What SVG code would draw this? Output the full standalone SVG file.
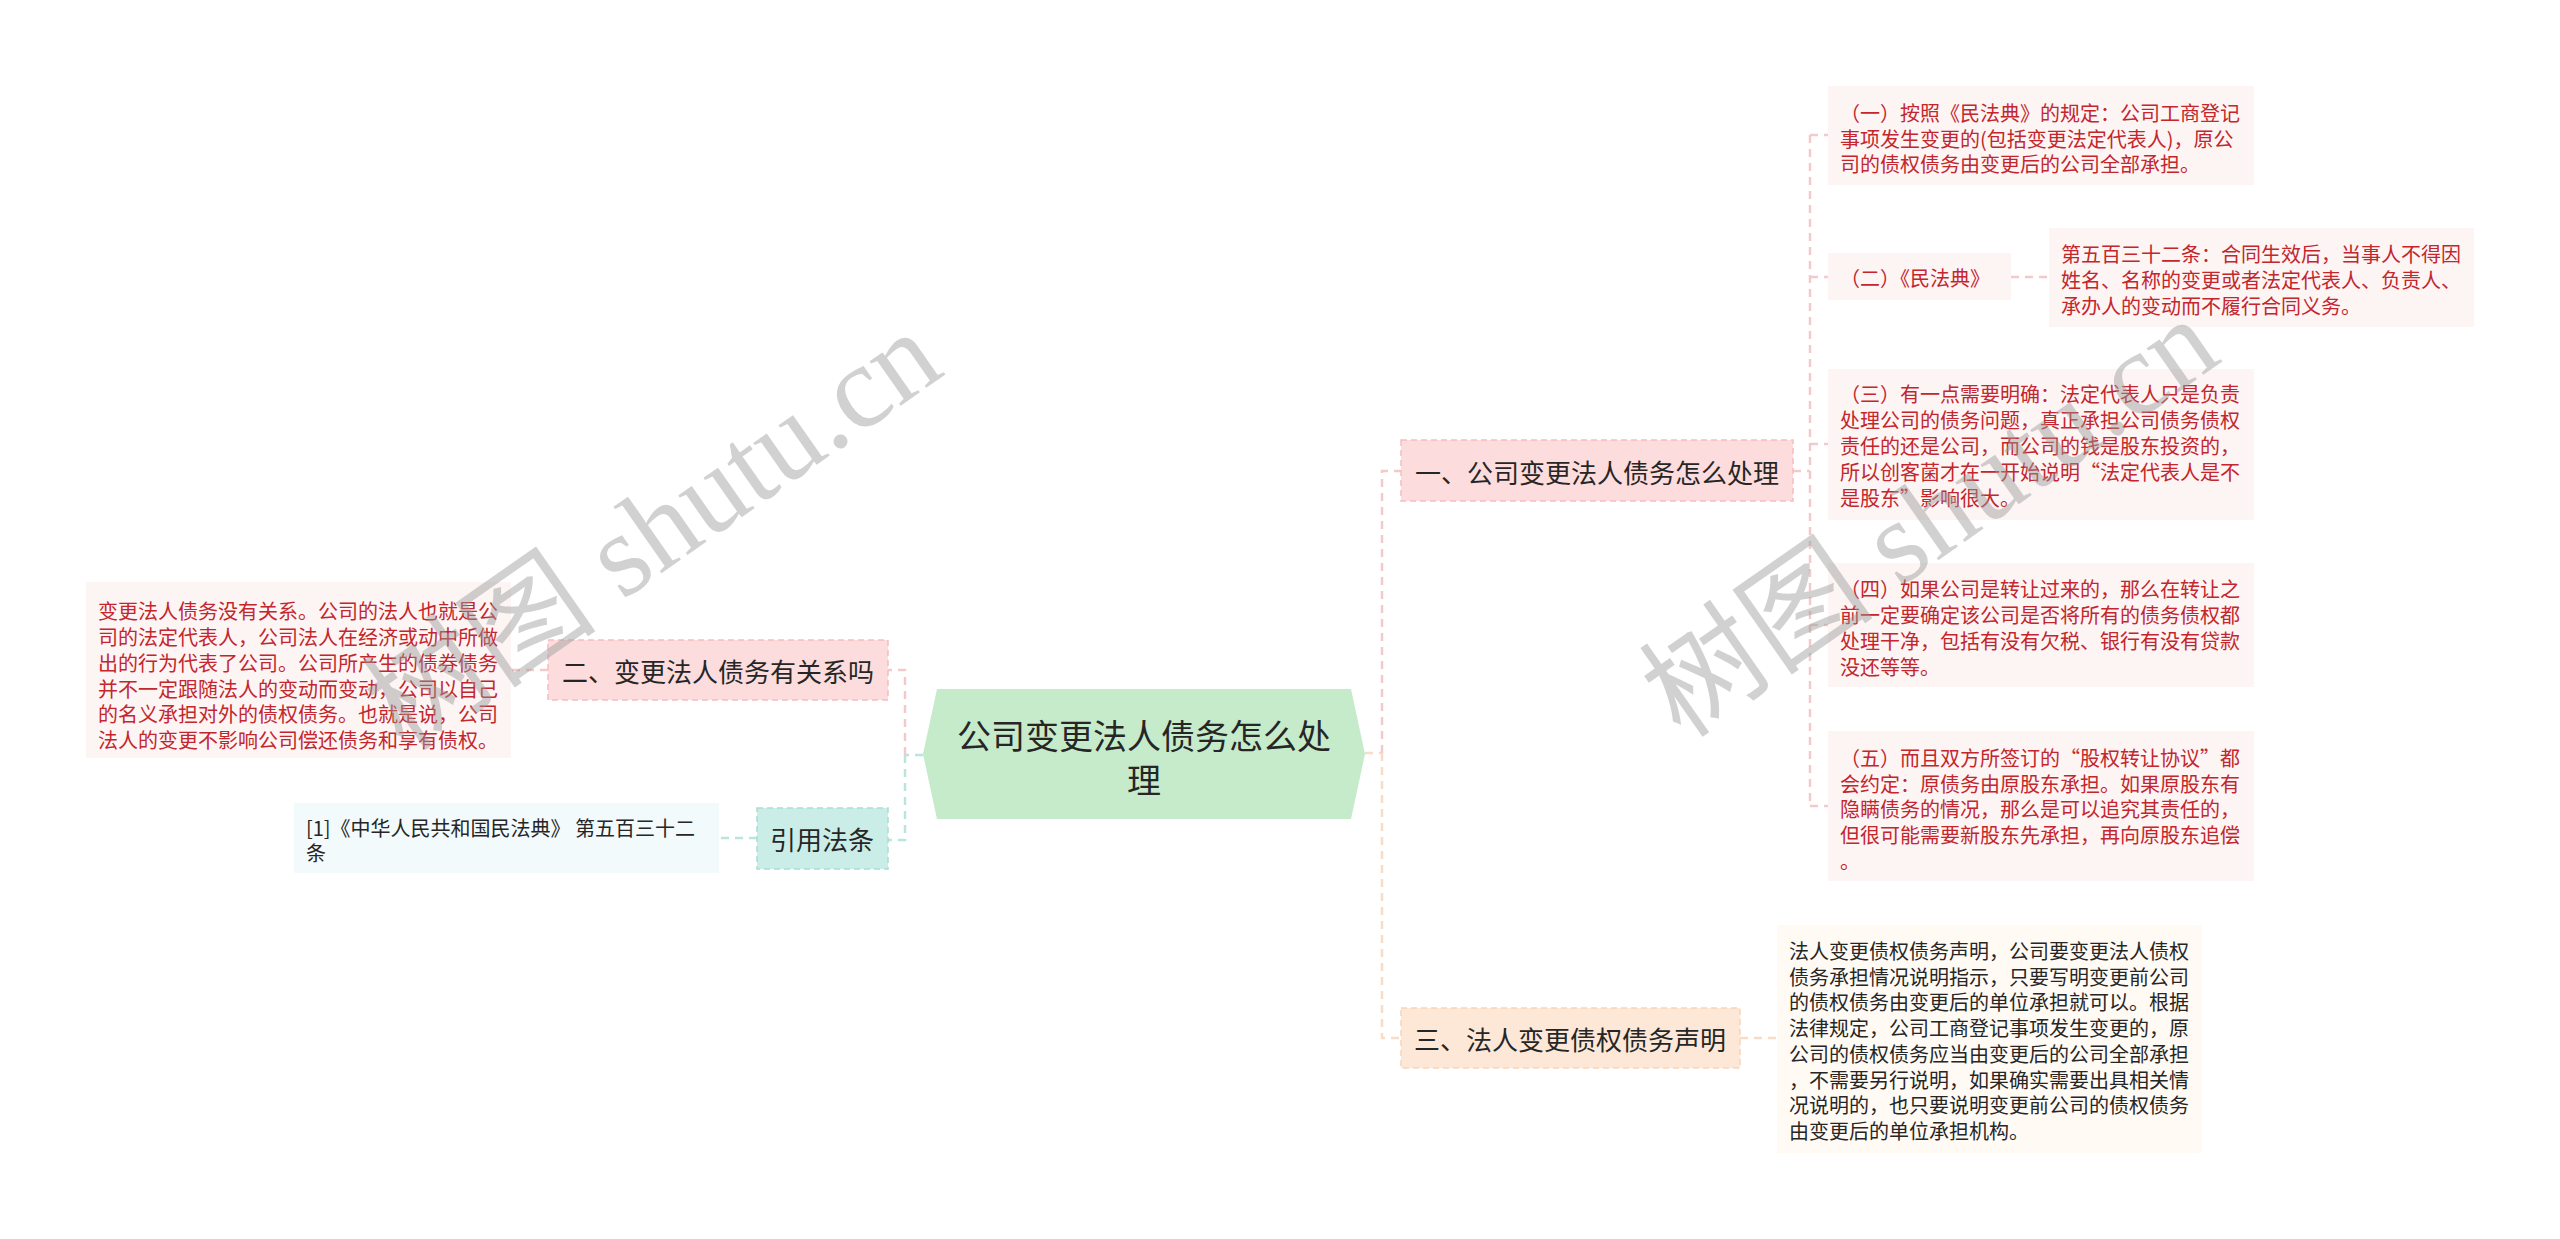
<svg xmlns="http://www.w3.org/2000/svg" width="2560" height="1239" viewBox="0 0 2560 1239">
<style>
text{font-family:"Noto Sans CJK SC","Noto Sans",sans-serif;}
.l1{font-size:26px;fill:#262626;text-anchor:middle;dominant-baseline:central;}
.ctr{font-size:34px;fill:#262626;text-anchor:middle;dominant-baseline:central;}
.red{font-size:20px;fill:#c3262c;dominant-baseline:central;}
.blk{font-size:20px;fill:#262626;dominant-baseline:central;}
.pk{fill:#fcdcdc;stroke:#f3bfc0;stroke-width:1.5;stroke-dasharray:6 4;}
.pc{fill:#fde8d7;stroke:#f7d3b8;stroke-width:1.5;stroke-dasharray:6 4;}
.tl{fill:#cbede7;stroke:#a9ddd4;stroke-width:1.5;stroke-dasharray:6 4;}
.lpk{fill:#fdf4f4;}
.lpc{fill:#fffaf4;}
.ltl{fill:#f3fafb;}
.c{fill:none;stroke-width:2.5;stroke-dasharray:8 6;}
.cp{stroke:#f3c9cb;}
.ct{stroke:#b9e5de;}
.co{stroke:#f9dcc6;}
.wm{font-family:"Liberation Serif","Noto Sans CJK SC",serif;font-size:118px;fill:#9a9a9a;opacity:0.45;text-anchor:middle;dominant-baseline:central;}
</style>
<rect width="2560" height="1239" fill="#ffffff"/>
<g id="connectors">
<path class="c ct" d="M923 755 H905"/>
<path class="c cp" d="M905 755 V670 H888"/>
<path class="c ct" d="M905 755 V840 H888"/>
<path class="c cp" d="M548 670 H511"/>
<path class="c ct" d="M757 838 H719"/>
<path class="c co" d="M1365 753 H1382"/>
<path class="c cp" d="M1382 753 V471 H1401"/>
<path class="c co" d="M1382 753 V1038 H1401"/>
<path class="c co" d="M1740 1038 H1777"/>
<path class="c cp" d="M1793 471 H1810"/>
<path class="c cp" d="M1810 135 V806"/>
<path class="c cp" d="M1810 135 H1828"/>
<path class="c cp" d="M1810 277 H1828"/>
<path class="c cp" d="M1810 444 H1828"/>
<path class="c cp" d="M1810 625 H1828"/>
<path class="c cp" d="M1810 806 H1828"/>
<path class="c cp" d="M2011 277 H2049"/>
</g>
<g id="center">
<polygon points="937,689 1351,689 1365,754 1351,819 937,819 923,754" fill="#c5ebcb"/>
<text class="ctr" x="1144" y="734">公司变更法人债务怎么处</text>
<text class="ctr" x="1144" y="778">理</text>
</g>
<g id="n1">
<rect class="pk" x="1401" y="440" width="392" height="61"/>
<text class="l1" x="1597" y="471">一、公司变更法人债务怎么处理</text>
</g>
<g id="n2">
<rect class="pk" x="548" y="640" width="340" height="60"/>
<text class="l1" x="718" y="670">二、变更法人债务有关系吗</text>
</g>
<g id="n3">
<rect class="pc" x="1401" y="1008" width="339" height="60"/>
<text class="l1" x="1570" y="1038">三、法人变更债权债务声明</text>
</g>
<g id="n4">
<rect class="tl" x="757" y="808" width="131" height="61"/>
<text class="l1" x="822" y="838">引用法条</text>
</g>
<g id="n1a">
<rect class="lpk" x="1828" y="86" width="426" height="99"/>
<text class="red" x="1840" y="112">（一）按照《民法典》的规定：公司工商登记</text>
<text class="red" x="1840" y="138">事项发生变更的(包括变更法定代表人)，原公</text>
<text class="red" x="1840" y="163">司的债权债务由变更后的公司全部承担。</text>
</g>
<g id="n1b">
<rect class="lpk" x="1828" y="253" width="183" height="47"/>
<text class="red" x="1840" y="277">（二）《民法典》</text>
</g>
<g id="n1b1">
<rect class="lpk" x="2049" y="228" width="425" height="99"/>
<text class="red" x="2061" y="253">第五百三十二条：合同生效后，当事人不得因</text>
<text class="red" x="2061" y="279">姓名、名称的变更或者法定代表人、负责人、</text>
<text class="red" x="2061" y="305">承办人的变动而不履行合同义务。</text>
</g>
<g id="n1c">
<rect class="lpk" x="1828" y="369" width="426" height="151"/>
<text class="red" x="1840" y="393">（三）有一点需要明确：法定代表人只是负责</text>
<text class="red" x="1840" y="419">处理公司的债务问题，真正承担公司债务债权</text>
<text class="red" x="1840" y="445">责任的还是公司，而公司的钱是股东投资的，</text>
<text class="red" x="1840" y="471">所以创客菌才在一开始说明“法定代表人是不</text>
<text class="red" x="1840" y="497">是股东”影响很大。</text>
</g>
<g id="n1d">
<rect class="lpk" x="1828" y="563" width="426" height="124"/>
<text class="red" x="1840" y="588">（四）如果公司是转让过来的，那么在转让之</text>
<text class="red" x="1840" y="614">前一定要确定该公司是否将所有的债务债权都</text>
<text class="red" x="1840" y="640">处理干净，包括有没有欠税、银行有没有贷款</text>
<text class="red" x="1840" y="666">没还等等。</text>
</g>
<g id="n1e">
<rect class="lpk" x="1828" y="731" width="426" height="150"/>
<text class="red" x="1840" y="757">（五）而且双方所签订的“股权转让协议”都</text>
<text class="red" x="1840" y="783">会约定：原债务由原股东承担。如果原股东有</text>
<text class="red" x="1840" y="808">隐瞒债务的情况，那么是可以追究其责任的，</text>
<text class="red" x="1840" y="834">但很可能需要新股东先承担，再向原股东追偿</text>
<text class="red" x="1840" y="860">。</text>
</g>
<g id="n2a">
<rect class="lpk" x="86" y="582" width="425" height="176"/>
<text class="red" x="98" y="610">变更法人债务没有关系。公司的法人也就是公</text>
<text class="red" x="98" y="636">司的法定代表人，公司法人在经济或动中所做</text>
<text class="red" x="98" y="662">出的行为代表了公司。公司所产生的债券债务</text>
<text class="red" x="98" y="688">并不一定跟随法人的变动而变动，公司以自己</text>
<text class="red" x="98" y="713">的名义承担对外的债权债务。也就是说，公司</text>
<text class="red" x="98" y="739">法人的变更不影响公司偿还债务和享有债权。</text>
</g>
<g id="n3a">
<rect class="lpc" x="1777" y="925" width="425" height="228"/>
<text class="blk" x="1789" y="950">法人变更债权债务声明，公司要变更法人债权</text>
<text class="blk" x="1789" y="976">债务承担情况说明指示，只要写明变更前公司</text>
<text class="blk" x="1789" y="1001">的债权债务由变更后的单位承担就可以。根据</text>
<text class="blk" x="1789" y="1027">法律规定，公司工商登记事项发生变更的，原</text>
<text class="blk" x="1789" y="1053">公司的债权债务应当由变更后的公司全部承担</text>
<text class="blk" x="1789" y="1079">，不需要另行说明，如果确实需要出具相关情</text>
<text class="blk" x="1789" y="1104">况说明的，也只要说明变更前公司的债权债务</text>
<text class="blk" x="1789" y="1130">由变更后的单位承担机构。</text>
</g>
<g id="n4a">
<rect class="ltl" x="294" y="803" width="425" height="70"/>
<text class="blk" x="306" y="827">[1]《中华人民共和国民法典》 第五百三十二</text>
<text class="blk" x="306" y="852">条</text>
</g>
<g id="watermark">
<text class="wm" x="653" y="531" transform="rotate(-35 653 531)">树图 shutu.cn</text>
<text class="wm" x="1930" y="518" transform="rotate(-35 1930 518)">树图 shutu.cn</text>
</g>
</svg>
